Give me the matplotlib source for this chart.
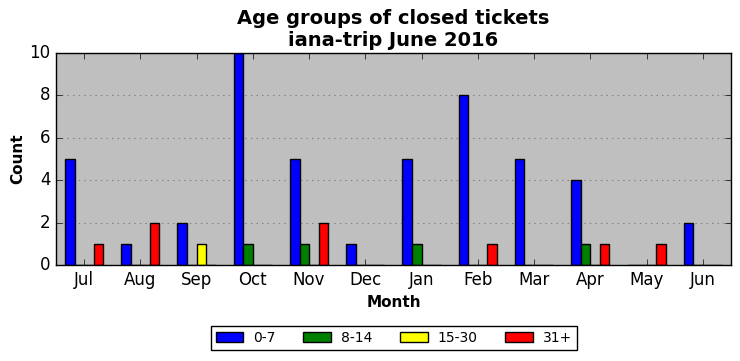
import numpy as np
import matplotlib
matplotlib.use("Agg")
import matplotlib.pyplot as plt

plt.style.use("classic")

months = ["Jul", "Aug", "Sep", "Oct", "Nov", "Dec",
          "Jan", "Feb", "Mar", "Apr", "May", "Jun"]
age_0_7 = [5, 1, 2, 10, 5, 1, 5, 8, 5, 4, 0, 2]
age_8_14 = [0, 0, 0, 1, 1, 0, 1, 0, 0, 1, 0, 0]
age_15_30 = [0, 0, 1, 0, 0, 0, 0, 0, 0, 0, 0, 0]
age_31_plus = [1, 2, 0, 0, 2, 0, 0, 1, 0, 1, 1, 0]

series = [("0-7", age_0_7, "blue"),
          ("8-14", age_8_14, "green"),
          ("15-30", age_15_30, "yellow"),
          ("31+", age_31_plus, "red")]

fig = plt.figure(figsize=(7.4, 3.61), dpi=100, facecolor="white")
ax = fig.add_axes([0.0757, 0.266, 0.912, 0.587])
ax.set_facecolor("#bfbfbf")

x = np.arange(len(months))
w = 0.17
for i, (label, vals, color) in enumerate(series):
    ax.bar(x + (i - 2) * w, vals, w, color=color, edgecolor="black",
           linewidth=1.0, label=label, align="edge")

ax.set_xlim(-0.5, len(months) - 0.5)
ax.set_ylim(0, 10)
ax.set_xticks(x)
ax.set_xticklabels(months)
ax.set_yticks(range(0, 11, 2))
ax.yaxis.grid(True, linestyle=":", color="#808080", linewidth=0.8)
ax.set_axisbelow(True)
ax.tick_params(labelsize=12)

ax.set_xlabel("Month", fontsize=11, fontweight="bold")
ax.set_ylabel("Count", fontsize=11, fontweight="bold", labelpad=3)
ax.set_title("Age groups of closed tickets\niana-trip June 2016",
             fontsize=14, fontweight="bold")

fig.legend(loc="center", bbox_to_anchor=(0.532, 0.064), ncol=4,
           fontsize=10, handlelength=2.0, handletextpad=0.7,
           columnspacing=2.0, borderpad=0.35, frameon=True, fancybox=False)

fig.savefig("out.png", dpi=100, facecolor="white")
